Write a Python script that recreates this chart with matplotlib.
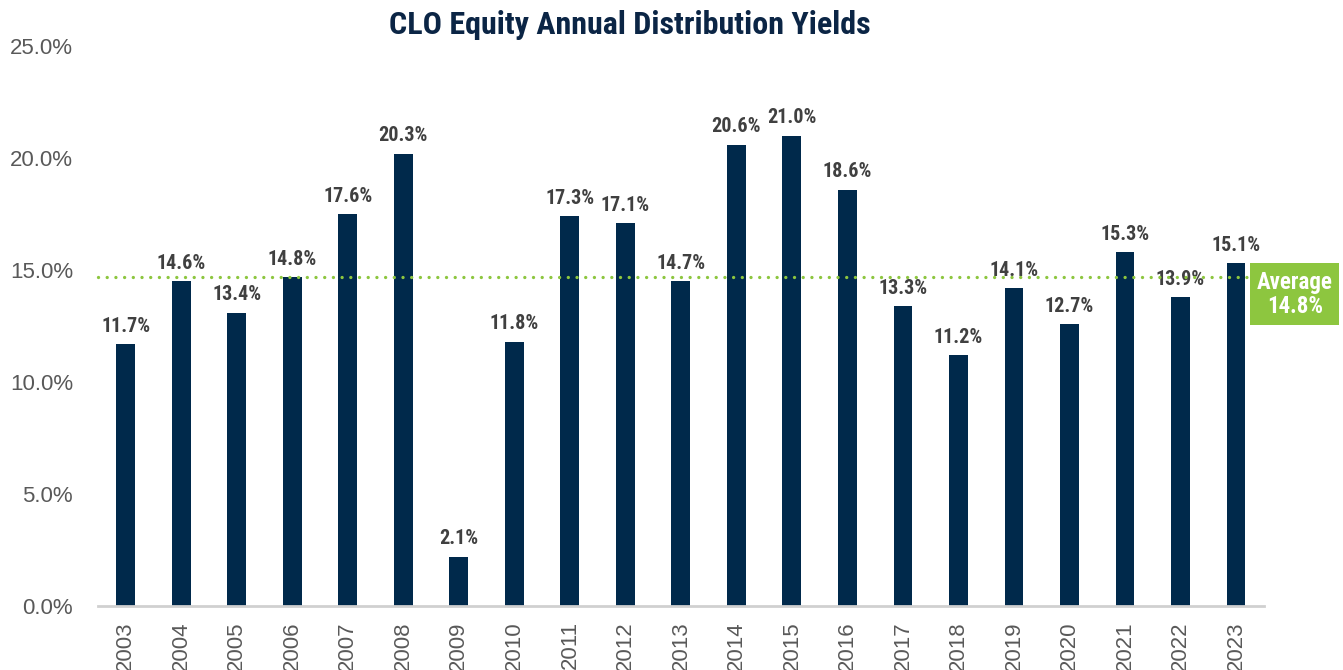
"""CLO equity annual distribution yields, 2003-2023, with the period average."""
import matplotlib
matplotlib.use("Agg")
import matplotlib.pyplot as plt
from matplotlib import font_manager as fm
from matplotlib.patches import Rectangle

years = [str(y) for y in range(2003, 2024)]
# bar heights as drawn (%)
yields = [11.7, 14.5, 13.1, 14.7, 17.5, 20.2, 2.2, 11.8, 17.4, 17.1, 14.5,
          20.6, 21.0, 18.6, 13.4, 11.2, 14.2, 12.6, 15.8, 13.8, 15.3]
# values printed above the bars (%)
shown = [11.7, 14.6, 13.4, 14.8, 17.6, 20.3, 2.1, 11.8, 17.3, 17.1, 14.7,
         20.6, 21.0, 18.6, 13.3, 11.2, 14.1, 12.7, 15.3, 13.9, 15.1]
average_line = 14.7
average_label = 14.8
yticks = [0, 5, 10, 15, 20, 25]

NAVY = "#00294B"
GREEN = "#8DC63F"
LABEL_GREY = "#404040"
TICK_GREY = "#595959"


def narrow_bold(size):
    """Bold condensed face if one is installed, else plain bold DejaVu a bit smaller."""
    prefs = ["LiberationSansNarrow-Bold", "NotoSans-CondensedBold",
             "RobotoCondensed-Bold", "OpenSans_Condensed-Bold",
             "OpenSans-CondensedBold", "DejaVuSansCondensed-Bold"]
    files = [f.fname for f in fm.fontManager.ttflist]
    for p in prefs:
        for f in files:
            if p.lower() in f.lower().replace(" ", ""):
                return fm.FontProperties(fname=f, size=size)
    for f in fm.fontManager.ttflist:
        if f.stretch in ("condensed", "semi-condensed") and f.weight in ("bold", 700):
            return fm.FontProperties(fname=f.fname, size=size)
    return fm.FontProperties(family="DejaVu Sans", weight="bold", size=size * 0.85)


plt.rcParams["font.family"] = ["Liberation Sans", "DejaVu Sans"]

fig = plt.figure(figsize=(13.43, 6.70), dpi=100)
ax = fig.add_axes([0.073, 0.0955, 0.868, 0.8355])

x = range(len(years))
ax.bar(x, yields, width=0.34, color=NAVY, zorder=2)

for xi, h, v in zip(x, yields, shown):
    ax.annotate(f"{v:.1f}%", (xi, h), xytext=(0, 6), textcoords="offset points",
                ha="center", va="bottom", color=LABEL_GREY,
                fontproperties=narrow_bold(14.5))

# average dotted line
ax.plot([-0.5, 20.2], [average_line, average_line], color=GREEN, lw=2.4,
        ls=(0, (0.01, 2.6)), dash_capstyle="round", zorder=3, clip_on=False)

# average call-out box to the right of the bars
box = Rectangle((20.26, 12.55), 1.6, 2.77, facecolor=GREEN, edgecolor="none",
                clip_on=False, zorder=4)
ax.add_patch(box)
ax.text(21.06, 13.93, f"Average\n{average_label:.1f}%", ha="center", va="center",
        color="white", fontproperties=narrow_bold(16.5),
        linespacing=1.05, zorder=5, clip_on=False)

ax.set_xlim(-0.5, len(years) - 0.5)
ax.set_ylim(0, 25)
ax.set_xticks(list(x))
ax.set_xticklabels(years, rotation=90, fontsize=16, color=TICK_GREY)
ax.set_yticks(yticks)
ax.set_yticklabels([f"{t:.1f}%" for t in yticks], fontsize=16, color=TICK_GREY)
ax.tick_params(axis="y", length=0, pad=18)
ax.tick_params(axis="x", length=0, pad=11)

for side in ["top", "right", "left"]:
    ax.spines[side].set_visible(False)
ax.spines["bottom"].set_color("#D0D0D0")
ax.spines["bottom"].set_linewidth(2)

fig.text(0.469, 0.963, "CLO Equity Annual Distribution Yields", ha="center",
         va="center", color="#0B2545", fontproperties=narrow_bold(23))

fig.savefig("out.png", dpi=100)
